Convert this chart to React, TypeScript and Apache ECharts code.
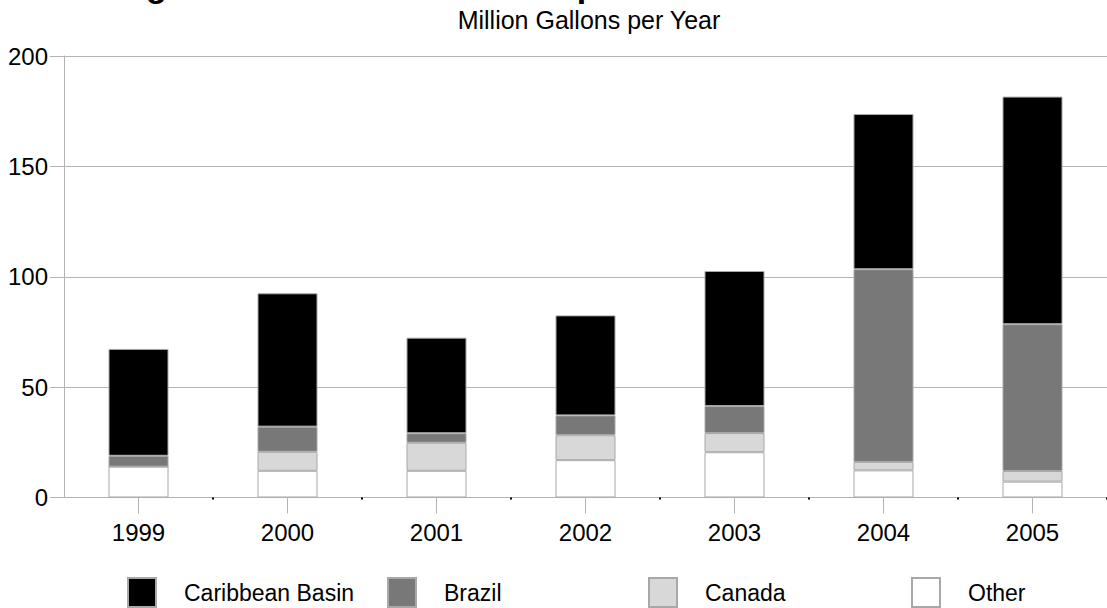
import React, { useEffect, useRef } from 'react';
import * as echarts from 'echarts';

const years = ['1999', '2000', '2001', '2002', '2003', '2004', '2005'];
const other = [14.0, 12.1, 12.1, 16.9, 20.5, 12.3, 7.2];
const canada = [0, 8.6, 12.7, 11.3, 8.7, 3.8, 4.8];
const brazil = [4.9, 11.4, 4.3, 9.0, 12.2, 87.3, 66.5];
const caribbean = [48.4, 60.4, 43.3, 45.3, 61.2, 70.3, 103.1];
const legendOrder = ['Caribbean Basin', 'Brazil', 'Canada', 'Other'];
const titleText = 'Origin of U.S. Fuel Ethanol Imports';
const subtitleText = 'Million Gallons per Year';

const FONT = '"Liberation Sans", Arial, Helvetica, sans-serif';
const GRID_GREY = '#b3b3b3';
const BORDER_GREY = '#a8a8a8';

export default function App() {
  const ref = useRef<HTMLDivElement>(null);
  useEffect(() => {
    const chart = echarts.init(ref.current as HTMLDivElement, null, { renderer: 'svg' });
    const seriesDefs = [
      { name: 'Other', data: other, color: '#ffffff' },
      { name: 'Canada', data: canada, color: '#d8d8d8' },
      { name: 'Brazil', data: brazil, color: '#787878' },
      { name: 'Caribbean Basin', data: caribbean, color: '#000000' },
    ];
    const legendLefts = [127, 387, 648, 911];
    const option: any = {
      animation: false,
      textStyle: { fontFamily: FONT },
      grid: { left: 64, right: -7, top: 56, bottom: 110.5, containLabel: false },
      graphic: [
        {
          type: 'text',
          x: 97,
          y: -15,
          silent: true,
          style: {
            text: titleText,
            font: 'bold 34px ' + FONT,
            fill: '#000',
            align: 'left',
            verticalAlign: 'middle',
          },
        },
        {
          type: 'text',
          x: 589,
          y: 20,
          silent: true,
          style: {
            text: subtitleText,
            font: '25px ' + FONT,
            fill: '#000',
            align: 'center',
            verticalAlign: 'middle',
          },
        },
      ],
      legend: legendOrder.map((name, i) => ({
        data: [name],
        left: legendLefts[i],
        top: 577,
        padding: 0,
        itemWidth: 28,
        itemHeight: 29,
        icon: 'rect',
        selectedMode: false,
        textStyle: { fontSize: 23, color: '#000', fontFamily: FONT, padding: [0, 0, 0, 23] },
      })),
      xAxis: [
        {
          type: 'category',
          data: years,
          axisLine: { show: true, lineStyle: { color: GRID_GREY, width: 1 } },
          axisTick: { show: true, alignWithLabel: true, length: 16, lineStyle: { color: GRID_GREY } },
          axisLabel: { fontSize: 24, color: '#000', margin: 23, fontFamily: FONT },
          splitLine: { show: false },
        },
        {
          type: 'category',
          data: years,
          position: 'bottom',
          axisLine: { show: false },
          axisLabel: { show: false },
          axisTick: {
            show: true,
            length: 2,
            interval: (i: number) => i > 0,
            lineStyle: { color: '#000', width: 2 },
          },
          splitLine: { show: false },
        },
      ],
      yAxis: {
        type: 'value',
        min: 0,
        max: 200,
        interval: 50,
        axisLine: { show: true, lineStyle: { color: GRID_GREY, width: 1 } },
        axisTick: { show: true, length: 14, lineStyle: { color: GRID_GREY } },
        splitLine: { show: true, lineStyle: { color: GRID_GREY, width: 1 } },
        axisLabel: { fontSize: 24, color: '#000', margin: 16, fontFamily: FONT },
      },
      series: seriesDefs.map((s) => ({
        name: s.name,
        type: 'bar',
        stack: 'total',
        xAxisIndex: 0,
        barWidth: 60,
        data: s.data,
        itemStyle: { color: s.color, borderColor: BORDER_GREY, borderWidth: 1 },
        emphasis: { disabled: true },
      })),
    };
    chart.setOption(option);
    return () => chart.dispose();
  }, []);
  return (
    <div
      ref={ref}
      style={{ position: 'absolute', left: 0, top: 0, width: 1107, height: 608 }}
    />
  );
}
